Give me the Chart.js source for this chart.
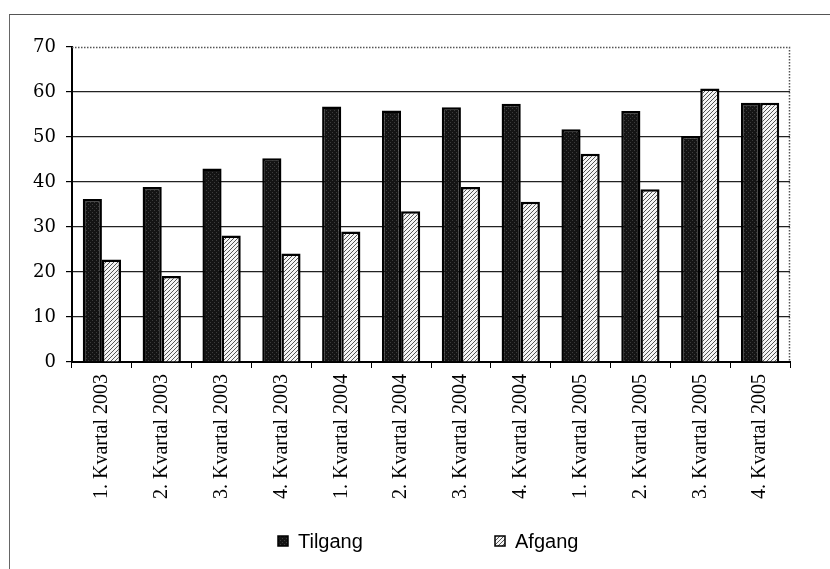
<!DOCTYPE html>
<html>
<head>
<meta charset="utf-8">
<script src="https://cdn.jsdelivr.net/npm/chart.js@4.4.1/dist/chart.umd.min.js"></script>
<style>
  html, body { margin: 0; padding: 0; background: #fff; }
  #wrap { position: relative; width: 830px; height: 569px; overflow: hidden; }
  #frame { position: absolute; left: 9px; top: 14px; width: 840px; height: 600px; border-left: 1px solid #666; border-top: 1px solid #555; }
  canvas { position: absolute; left: 0; top: 0; }
</style>
</head>
<body>
<div id="wrap">
  <div id="frame"></div>
  <canvas id="c" width="830" height="569"></canvas>
</div>
<script>
const categories = [
  "1. Kvartal 2003", "2. Kvartal 2003", "3. Kvartal 2003", "4. Kvartal 2003",
  "1. Kvartal 2004", "2. Kvartal 2004", "3. Kvartal 2004", "4. Kvartal 2004",
  "1. Kvartal 2005", "2. Kvartal 2005", "3. Kvartal 2005", "4. Kvartal 2005"
];
const tilgang = [36.2, 38.9, 43.0, 45.3, 56.8, 55.9, 56.6, 57.4, 51.7, 55.8, 50.2, 57.6];
const afgang  = [22.8, 19.1, 28.1, 24.1, 29.0, 33.5, 38.9, 35.6, 46.3, 38.4, 60.8, 57.6];
const seriesNames = ["Tilgang", "Afgang"];
const yTicks = [0, 10, 20, 30, 40, 50, 60, 70];

function makeDark() {
  const c = document.createElement('canvas'); c.width = 4; c.height = 4;
  const x = c.getContext('2d');
  x.fillStyle = '#141414'; x.fillRect(0, 0, 4, 4);
  x.fillStyle = '#3c3c3c';
  x.fillRect(0, 0, 1, 1); x.fillRect(2, 2, 1, 1);
  return x.createPattern(c, 'repeat');
}
function makeHatch() {
  const n = 4;
  const c = document.createElement('canvas'); c.width = n; c.height = n;
  const x = c.getContext('2d');
  x.fillStyle = '#f4f4f4'; x.fillRect(0, 0, n, n);
  x.fillStyle = '#555555';
  for (let i = 0; i < n; i++) x.fillRect(i, n - 1 - i, 1, 1);
  return x.createPattern(c, 'repeat');
}
const darkPat = makeDark();
const hatchPat = makeHatch();

const plotBorder = {
  id: 'plotBorder',
  afterDatasetsDraw(chart) {
    const a = chart.chartArea, g = chart.ctx;
    g.save();
    g.strokeStyle = '#555';
    g.lineWidth = 1.5;
    g.setLineDash([1.5, 1.5]);
    g.beginPath();
    g.moveTo(a.left, a.top + 0.5);
    g.lineTo(a.right - 0.5, a.top + 0.5);
    g.lineTo(a.right - 0.5, a.bottom);
    g.stroke();
    g.restore();
  }
};

const customLegend = {
  id: 'customLegend',
  afterDraw(chart) {
    const g = chart.ctx;
    const pats = [darkPat, hatchPat];
    const xs = [278, 495];
    const y = 541;
    g.save();
    g.font = '20px "Liberation Sans", Arial, sans-serif';
    g.textBaseline = 'middle';
    g.textAlign = 'left';
    seriesNames.forEach((name, i) => {
      g.fillStyle = pats[i];
      g.fillRect(xs[i], y - 5, 10, 10);
      g.strokeStyle = '#000';
      g.lineWidth = 1.5;
      g.strokeRect(xs[i], y - 5, 10, 10);
      g.fillStyle = '#000';
      g.fillText(name, xs[i] + 20, y + 1);
    });
    g.restore();
  }
};

new Chart(document.getElementById('c'), {
  type: 'bar',
  data: {
    labels: categories,
    datasets: [
      { label: seriesNames[0], data: tilgang, backgroundColor: darkPat, borderColor: '#000', borderWidth: 2.5 },
      { label: seriesNames[1], data: afgang, backgroundColor: hatchPat, borderColor: '#000', borderWidth: 2.5 }
    ]
  },
  options: {
    responsive: false,
    animation: false,
    devicePixelRatio: 1,
    layout: { padding: { top: 47, right: 40, left: 0, bottom: 0 } },
    plugins: { legend: { display: false }, tooltip: { enabled: false } },
    datasets: { bar: { categoryPercentage: 0.64, barPercentage: 1.0 } },
    scales: {
      x: {
        offset: true,
        grid: { display: true, drawOnChartArea: false, drawTicks: true, tickLength: 6, color: '#000', offset: true },
        border: { color: '#000', width: 2 },
        ticks: {
          autoSkip: false, minRotation: 90, maxRotation: 90, color: '#000', padding: 6,
          font: { family: '"Liberation Serif", "Times New Roman", serif', size: 20 }
        },
        afterFit(s) { s.height = 207; }
      },
      y: {
        min: 0, max: 70,
        afterBuildTicks(s) { s.ticks = yTicks.map(v => ({ value: v })); },
        grid: {
          color: (c) => (c.tick && c.tick.value === 70) ? 'rgba(0,0,0,0)' : '#222',
          lineWidth: 1.2, tickLength: 6, drawTicks: true,
          tickColor: '#000'
        },
        border: { color: '#000', width: 2 },
        ticks: {
          color: '#000', padding: 10,
          font: { family: '"DejaVu Serif", "Liberation Serif", serif', size: 18 }
        },
        afterFit(s) { s.width = 72; }
      }
    }
  },
  plugins: [plotBorder, customLegend]
});
</script>
</body>
</html>
